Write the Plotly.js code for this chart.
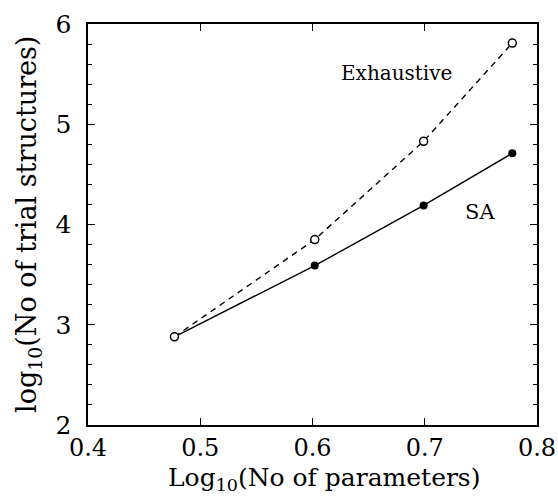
<!DOCTYPE html>
<html>
<head>
<meta charset="utf-8">
<script src="https://cdn.plot.ly/plotly-3.0.1.min.js"></script>
<style>
  html, body { margin: 0; padding: 0; background: #fff; }
  #chart { width: 558px; height: 496px; }
</style>
</head>
<body>
<div id="chart"></div>
<script>
// Data
const logParams = [0.477, 0.602, 0.699, 0.778];
const exhaustiveTrials = [2.88, 3.85, 4.83, 5.81];
const saTrials = [2.88, 3.59, 4.19, 4.71];
const xTickVals = [0.4, 0.5, 0.6, 0.7, 0.8];
const xTickText = ["0.4", "0.5", "0.6", "0.7", "0.8"];
const yTickVals = [2, 3, 4, 5, 6];
const yTickText = ["2", "3", "4", "5", "6"];
const seriesLabels = ["Exhaustive", "SA"];
const xTitle = "Log<sub>10</sub>(No of parameters)";
const yTitle = "log<sub>10</sub>(No of trial structures)";

const FONT = "DejaVu Serif, Liberation Serif, serif";

const traces = [
  {
    x: logParams, y: saTrials, type: "scatter", mode: "lines+markers",
    name: seriesLabels[1],
    line: { color: "#000", width: 1.4, dash: "solid" },
    marker: { symbol: "circle", size: 8, color: "#000" },
    hoverinfo: "skip"
  },
  {
    x: logParams, y: exhaustiveTrials, type: "scatter", mode: "lines+markers",
    name: seriesLabels[0],
    line: { color: "#000", width: 1.4, dash: "6px,5px" },
    marker: { symbol: "circle", size: 8, color: "#fff", line: { color: "#000", width: 1.5 } },
    hoverinfo: "skip"
  }
];

const L = 88, R = 21, T = 24, B = 71;
const layout = {
  width: 558, height: 496,
  margin: { l: L, r: R, t: T, b: B },
  paper_bgcolor: "#fff", plot_bgcolor: "#fff",
  showlegend: false,
  font: { family: FONT, color: "#000", size: 20 },
  xaxis: {
    range: [0.4, 0.8], tickvals: xTickVals, ticktext: xTickText,
    ticks: "inside", ticklen: 7, tickwidth: 1.2, tickcolor: "#000",
    showline: true, linecolor: "#000", linewidth: 1.6, mirror: "ticks",
    showgrid: false, zeroline: false,
    ticklabelstandoff: 1,
    tickfont: { family: FONT, size: 24 }
  },
  yaxis: {
    range: [2, 6], tickvals: yTickVals, ticktext: yTickText,
    ticks: "inside", ticklen: 7, tickwidth: 1.2, tickcolor: "#000",
    minor: { dtick: 0.2, ticks: "inside", ticklen: 4, tickcolor: "#000", tickwidth: 1 },
    showline: true, linecolor: "#000", linewidth: 1.6, mirror: "ticks",
    showgrid: false, zeroline: false,
    ticklabelstandoff: 10,
    tickfont: { family: FONT, size: 25 }
  },
  annotations: [
    { text: yTitle, showarrow: false, textangle: -90, xref: "paper", yref: "paper",
      xanchor: "center", yanchor: "middle",
      font: { family: FONT, size: 27, color: "#000" } },
    { text: xTitle, showarrow: false, xref: "paper", yref: "paper",
      xanchor: "center", yanchor: "middle",
      font: { family: FONT, size: 25, color: "#000" } },
    { x: 0.675, y: 5.51, xref: "x", yref: "y", text: seriesLabels[0], showarrow: false,
      font: { family: FONT, size: 20, color: "#000" } },
    { x: 0.7495, y: 4.12, xref: "x", yref: "y", text: seriesLabels[1], showarrow: false,
      font: { family: FONT, size: 21, color: "#000" } }
  ]
};

// place the axis-title annotations at pixel positions (converted to paper coordinates)
const plotW = 558 - L - R, plotH = 496 - T - B;
function px(x) { return (x - L) / plotW; }
function py(y) { return (496 - B - y) / plotH; }
layout.annotations[0].x = px(28);  layout.annotations[0].y = py(225);
layout.annotations[1].x = px(324); layout.annotations[1].y = py(479);

Plotly.newPlot("chart", traces, layout, { displayModeBar: false, staticPlot: true });
</script>
</body>
</html>
